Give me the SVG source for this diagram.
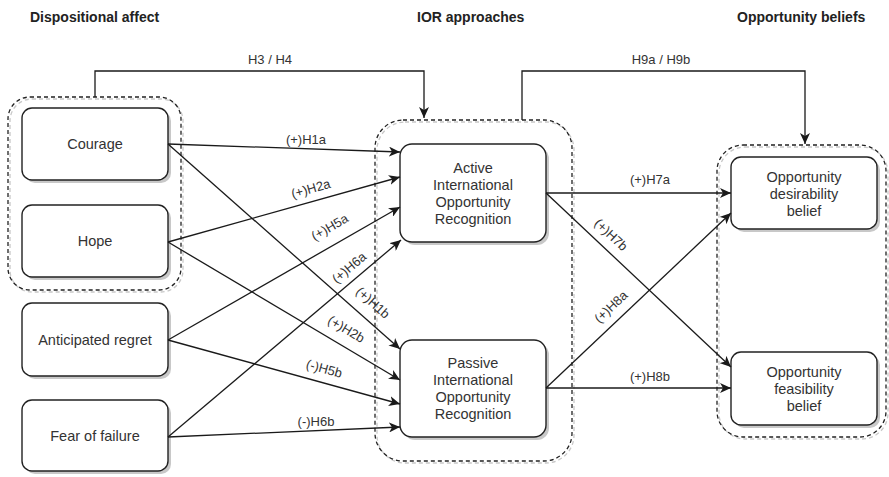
<svg xmlns="http://www.w3.org/2000/svg" width="889" height="477" viewBox="0 0 889 477">
<style>
.bg{fill:#fff}
.box{fill:#fff;stroke:#222;stroke-width:1.4}
.sh{fill:#c8c8c8}
.grp{fill:none;stroke:#222;stroke-width:1.3;stroke-dasharray:4 3}
.grpsh{fill:none;stroke:#c8c8c8;stroke-width:1.3;stroke-dasharray:4 3}
.t{font-family:"Liberation Sans",Arial,sans-serif;font-size:14.5px;fill:#333;text-anchor:middle}
.h{font-family:"Liberation Sans",Arial,sans-serif;font-size:14px;font-weight:bold;fill:#222}
.l{font-family:"Liberation Sans",Arial,sans-serif;font-size:13px;fill:#333;text-anchor:middle}
.c{fill:none;stroke:#1a1a1a;stroke-width:1.3;marker-end:url(#arr)}
</style>
<defs>
<marker id="arr" markerUnits="userSpaceOnUse" markerWidth="12" markerHeight="10" refX="11" refY="5" orient="auto">
<path d="M0,0 L11,5 L0,10 L3,5 Z" fill="#1a1a1a"/>
</marker>
</defs>
<rect class="bg" x="0" y="0" width="889" height="477"/>

<text class="h" x="30" y="22">Dispositional affect</text>
<text class="h" x="417" y="22">IOR approaches</text>
<text class="h" x="737" y="22">Opportunity beliefs</text>

<g id="group-dispositional">
<rect class="grpsh" x="10" y="99" width="173" height="193" rx="22"/>
<rect class="grp" x="8" y="97" width="173" height="193" rx="22"/>
</g>
<g id="group-ior">
<rect class="grpsh" x="377" y="122" width="197" height="341" rx="28"/>
<rect class="grp" x="375" y="120" width="197" height="341" rx="28"/>
</g>
<g id="group-beliefs">
<rect class="grpsh" x="719" y="147" width="169" height="292" rx="26"/>
<rect class="grp" x="717" y="145" width="169" height="292" rx="26"/>
</g>

<g id="courage">
<rect class="sh" x="25" y="111" width="146" height="72" rx="10"/>
<rect class="box" x="22" y="108" width="146" height="72" rx="10"/>
<text class="t" x="95" y="149">Courage</text>
</g>
<g id="hope">
<rect class="sh" x="25" y="208" width="146" height="72" rx="10"/>
<rect class="box" x="22" y="205" width="146" height="72" rx="10"/>
<text class="t" x="95" y="246">Hope</text>
</g>
<g id="regret">
<rect class="sh" x="25" y="306" width="146" height="73" rx="10"/>
<rect class="box" x="22" y="303" width="146" height="73" rx="10"/>
<text class="t" x="95" y="345">Anticipated regret</text>
</g>
<g id="fear">
<rect class="sh" x="25" y="403" width="146" height="71" rx="10"/>
<rect class="box" x="22" y="400" width="146" height="71" rx="10"/>
<text class="t" x="95" y="441">Fear of failure</text>
</g>
<g id="active">
<rect class="sh" x="403" y="147" width="146" height="98" rx="12"/>
<rect class="box" x="400" y="144" width="146" height="98" rx="12"/>
<text class="t" x="473" y="173">Active</text>
<text class="t" x="473" y="190">International</text>
<text class="t" x="473" y="207">Opportunity</text>
<text class="t" x="473" y="224">Recognition</text>
</g>
<g id="passive">
<rect class="sh" x="403" y="343" width="146" height="97" rx="12"/>
<rect class="box" x="400" y="340" width="146" height="97" rx="12"/>
<text class="t" x="473" y="368">Passive</text>
<text class="t" x="473" y="385">International</text>
<text class="t" x="473" y="402">Opportunity</text>
<text class="t" x="473" y="419">Recognition</text>
</g>
<g id="desirability">
<rect class="sh" x="734" y="160" width="146" height="72" rx="10"/>
<rect class="box" x="731" y="157" width="146" height="72" rx="10"/>
<text class="t" x="804" y="182">Opportunity</text>
<text class="t" x="804" y="199">desirability</text>
<text class="t" x="804" y="216">belief</text>
</g>
<g id="feasibility">
<rect class="sh" x="734" y="355" width="146" height="73" rx="10"/>
<rect class="box" x="731" y="352" width="146" height="73" rx="10"/>
<text class="t" x="804" y="377">Opportunity</text>
<text class="t" x="804" y="394">feasibility</text>
<text class="t" x="804" y="411">belief</text>
</g>

<g id="connectors">
<path class="c" d="M95,97 V71 H424 V118"/>
<path class="c" d="M522,120 V71 H805 V144"/>
<path class="c" d="M168,144 L400,152"/>
<path class="c" d="M168,242 L400,177"/>
<path class="c" d="M168,340 L400,207"/>
<path class="c" d="M168,437 L401,240"/>
<path class="c" d="M168,144 L400,349"/>
<path class="c" d="M168,242 L400,380"/>
<path class="c" d="M168,340 L400,404"/>
<path class="c" d="M168,437 L400,427"/>
<path class="c" d="M546,193 L731,193"/>
<path class="c" d="M546,193 L731,367"/>
<path class="c" d="M546,388 L731,213"/>
<path class="c" d="M546,388 L731,388"/>
<text class="l" x="270" y="64">H3 / H4</text>
<text class="l" x="661" y="64">H9a / H9b</text>
<text class="l" x="306" y="144">(+)H1a</text>
<text class="l" transform="translate(312,193) rotate(-15.7)">(+)H2a</text>
<text class="l" transform="translate(332,231) rotate(-29.9)">(+)H5a</text>
<text class="l" transform="translate(352,271) rotate(-40.3)">(+)H6a</text>
<text class="l" transform="translate(370,306) rotate(41.6)">(+)H1b</text>
<text class="l" transform="translate(344,333) rotate(30.9)">(+)H2b</text>
<text class="l" transform="translate(323,373) rotate(15.5)">(-)H5b</text>
<text class="l" x="316" y="426">(-)H6b</text>
<text class="l" x="650" y="184">(+)H7a</text>
<text class="l" transform="translate(608,238) rotate(43.2)">(+)H7b</text>
<text class="l" transform="translate(614,310) rotate(-43.4)">(+)H8a</text>
<text class="l" x="650" y="381">(+)H8b</text>
</g>
</svg>
